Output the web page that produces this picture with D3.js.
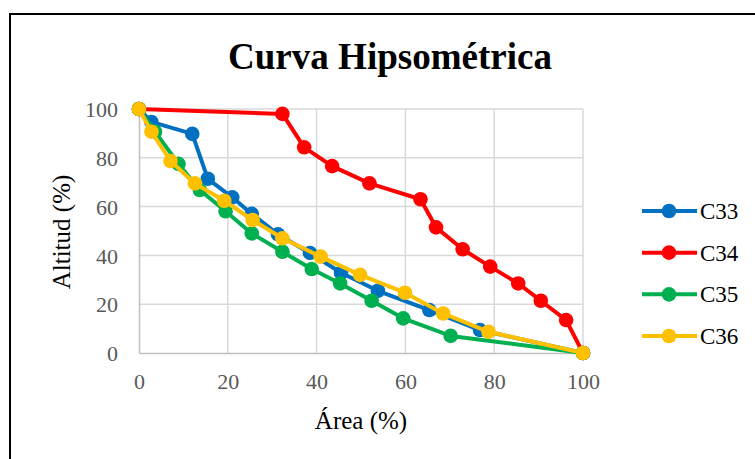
<!DOCTYPE html>
<html>
<head>
<meta charset="utf-8">
<script src="https://cdn.jsdelivr.net/npm/d3@7"></script>
<style>
  html, body { margin: 0; padding: 0; background: #fff; }
  svg { display: block; }
</style>
</head>
<body>
<svg id="chart" width="755" height="459"></svg>
<script>
// Hypsometric curves: cumulative area (%) vs relative altitude (%)
const seriesNames = ["C33", "C34", "C35", "C36"];
const seriesColors = ["#0070C0", "#FF0000", "#00B050", "#FFC000"];

const areaC33 = [0, 2.8, 12.0, 15.5, 21.0, 25.4, 31.3, 38.5, 45.5, 53.8, 65.4, 76.8, 100];
const altC33  = [100, 94.7, 89.8, 71.4, 63.8, 57.0, 48.6, 41.0, 32.9, 25.5, 17.6, 9.4, 0];

const areaC34 = [0, 32.3, 37.2, 43.5, 51.9, 63.4, 66.9, 72.9, 79.1, 85.4, 90.5, 96.2, 100];
const altC34  = [100, 98.0, 84.3, 76.6, 69.5, 63.0, 51.5, 42.5, 35.4, 28.5, 21.4, 13.5, 0];

const areaC35 = [0, 3.6, 8.9, 13.7, 19.5, 25.4, 32.3, 38.9, 45.3, 52.4, 59.5, 70.2, 100];
const altC35  = [100, 90.7, 77.5, 66.8, 58.1, 49.0, 41.5, 34.4, 28.5, 21.4, 14.2, 7.0, 0];

const areaC36 = [0, 2.8, 7.1, 12.6, 19.2, 25.6, 32.3, 40.9, 49.8, 59.9, 68.5, 78.7, 100];
const altC36  = [100, 90.7, 78.7, 69.5, 62.4, 54.5, 47.0, 39.5, 32.0, 24.7, 16.2, 8.7, 0];

const xTicks = [0, 20, 40, 60, 80, 100];
const yTicks = [0, 20, 40, 60, 80, 100];

const titleText = "Curva Hipsométrica";
const xTitle = "Área (%)";
const yTitle = "Altitud (%)";

const areas = [areaC33, areaC34, areaC35, areaC36];
const alts = [altC33, altC34, altC35, altC36];
const series = seriesNames.map((name, i) => ({
  name,
  color: seriesColors[i],
  points: areas[i].map((a, j) => ({ x: a, y: alts[i][j] }))
}));

const svg = d3.select("#chart");
const serif = "'Liberation Serif', 'Times New Roman', serif";

// chart frame, running off the right and bottom edges
svg.append("rect")
  .attr("x", 10).attr("y", 14)
  .attr("width", 800).attr("height", 500)
  .attr("fill", "#fff")
  .attr("stroke", "#000").attr("stroke-width", 2);

const plot = { left: 139, right: 583, top: 109, bottom: 353 };
const x = d3.scaleLinear().domain([0, 100]).range([plot.left, plot.right]);
const y = d3.scaleLinear().domain([0, 100]).range([plot.bottom, plot.top]);

// gridlines
const grid = svg.append("g");
grid.selectAll("line.h").data(yTicks.filter(t => t > 0)).join("line")
  .attr("x1", plot.left).attr("x2", plot.right)
  .attr("y1", d => y(d)).attr("y2", d => y(d))
  .attr("stroke", "#d9d9d9").attr("stroke-width", 1.5);
grid.selectAll("line.v").data(xTicks.filter(t => t > 0)).join("line")
  .attr("y1", plot.top).attr("y2", plot.bottom)
  .attr("x1", d => x(d)).attr("x2", d => x(d))
  .attr("stroke", "#d9d9d9").attr("stroke-width", 1.5);

// axes
const xAxis = svg.append("g")
  .attr("transform", `translate(0,${plot.bottom})`)
  .call(d3.axisBottom(x).tickValues(xTicks).tickSize(0).tickPadding(20));
const yAxis = svg.append("g")
  .attr("transform", `translate(${plot.left},0)`)
  .call(d3.axisLeft(y).tickValues(yTicks).tickSize(0).tickPadding(21));
[xAxis, yAxis].forEach(g => {
  g.select(".domain").attr("stroke", "#bfbfbf").attr("stroke-width", 1.5);
  g.selectAll("text")
    .attr("fill", "#595959")
    .style("font-family", serif)
    .style("font-size", "22px");
});
yAxis.selectAll("text").attr("dy", "0.35em");

// series lines and markers
const line = d3.line().x(d => x(d.x)).y(d => y(d.y));
series.forEach(s => {
  const g = svg.append("g");
  g.append("path")
    .datum(s.points)
    .attr("d", line)
    .attr("fill", "none")
    .attr("stroke", s.color)
    .attr("stroke-width", 4)
    .attr("stroke-linejoin", "round");
  g.selectAll("circle").data(s.points).join("circle")
    .attr("cx", d => x(d.x)).attr("cy", d => y(d.y))
    .attr("r", 7.3)
    .attr("fill", s.color);
});

// title
svg.append("text")
  .attr("x", 390).attr("y", 69)
  .attr("text-anchor", "middle")
  .attr("textLength", 324)
  .attr("lengthAdjust", "spacingAndGlyphs")
  .style("font-family", serif)
  .style("font-size", "37px")
  .style("font-weight", "bold")
  .attr("fill", "#000")
  .text(titleText);

// axis titles
svg.append("text")
  .attr("x", 361).attr("y", 429)
  .attr("text-anchor", "middle")
  .style("font-family", serif)
  .style("font-size", "25px")
  .attr("fill", "#000")
  .text(xTitle);
svg.append("text")
  .attr("transform", "translate(70,232) rotate(-90)")
  .attr("text-anchor", "middle")
  .style("font-family", serif)
  .style("font-size", "25px")
  .attr("fill", "#000")
  .text(yTitle);

// legend
const legend = svg.append("g");
const legendY = d3.scalePoint().domain(seriesNames).range([211, 336]);
series.forEach(s => {
  const ly = legendY(s.name);
  legend.append("line")
    .attr("x1", 642).attr("x2", 697)
    .attr("y1", ly).attr("y2", ly)
    .attr("stroke", s.color).attr("stroke-width", 4);
  legend.append("circle")
    .attr("cx", 669).attr("cy", ly).attr("r", 7.3)
    .attr("fill", s.color);
  legend.append("text")
    .attr("x", 700).attr("y", ly).attr("dy", "0.35em")
    .style("font-family", serif)
    .style("font-size", "23px")
    .attr("fill", "#000")
    .text(s.name);
});
</script>
</body>
</html>
